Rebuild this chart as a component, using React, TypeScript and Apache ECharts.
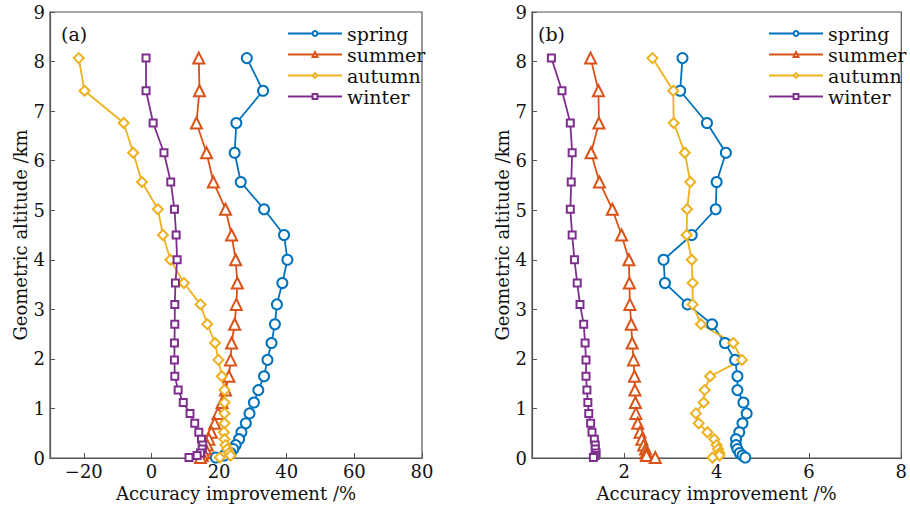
import React, { useEffect, useRef } from "react";
import * as echarts from "echarts";

const levels = [8.07, 7.41, 6.76, 6.16, 5.57, 5.02, 4.5, 4.0, 3.53, 3.1, 2.7, 2.32, 1.98, 1.65, 1.37, 1.12, 0.9, 0.7, 0.52, 0.38, 0.26, 0.18, 0.1, 0.05, 0.01];

const seasons = ["spring", "summer", "autumn", "winter"];

const springA = [28.2, 33.0, 25.1, 24.6, 26.4, 33.3, 39.2, 40.2, 38.7, 37.1, 36.5, 35.5, 34.3, 33.3, 31.6, 30.3, 29.0, 27.9, 26.6, 25.9, 24.9, 24.2, 23.4, 21.5, 19.0];
const summerA = [14.0, 14.2, 13.3, 16.3, 18.3, 21.9, 23.7, 24.9, 25.4, 25.1, 24.6, 23.7, 23.4, 22.9, 21.9, 20.9, 19.7, 18.7, 17.7, 17.0, 16.5, 16.0, 15.5, 15.0, 14.5];
const autumnA = [-21.5, -19.8, -8.2, -5.4, -2.8, 1.9, 3.4, 5.6, 9.6, 14.5, 16.5, 18.8, 19.8, 20.8, 21.6, 21.6, 21.6, 21.6, 21.4, 21.6, 21.9, 22.4, 22.9, 23.4, 20.2];
const winterA = [-1.6, -1.6, 0.5, 3.7, 5.7, 6.8, 7.3, 7.6, 7.1, 6.9, 6.9, 6.8, 6.8, 6.9, 7.9, 9.4, 11.4, 12.8, 14.0, 14.8, 15.2, 15.0, 14.5, 13.5, 11.1];

const springB = [3.26, 3.21, 3.79, 4.2, 4.0, 3.98, 3.46, 2.85, 2.88, 3.37, 3.9, 4.18, 4.4, 4.45, 4.45, 4.58, 4.65, 4.56, 4.49, 4.42, 4.42, 4.45, 4.5, 4.56, 4.62];
const summerB = [1.27, 1.44, 1.45, 1.28, 1.46, 1.74, 1.94, 2.1, 2.11, 2.12, 2.15, 2.17, 2.2, 2.22, 2.23, 2.24, 2.25, 2.29, 2.34, 2.38, 2.42, 2.46, 2.47, 2.48, 2.67];
const autumnB = [2.61, 3.06, 3.07, 3.31, 3.43, 3.36, 3.35, 3.46, 3.48, 3.48, 3.66, 4.36, 4.55, 3.86, 3.74, 3.72, 3.55, 3.61, 3.8, 3.95, 4.0, 4.03, 4.06, 4.06, 3.91];
const winterB = [0.42, 0.65, 0.83, 0.87, 0.85, 0.83, 0.87, 0.92, 0.98, 1.04, 1.12, 1.15, 1.17, 1.17, 1.19, 1.21, 1.23, 1.27, 1.3, 1.35, 1.37, 1.37, 1.39, 1.37, 1.33];

const xTicksA = [-20, 0, 20, 40, 60, 80];
const xTicksB = [0, 2, 4, 6, 8];
const xLabelsB = [2, 4, 6, 8];

const colors = ["#0072BD", "#D95319", "#EDB120", "#7E2F8E"];
const symbols = ["emptyCircle", "emptyTriangle", "emptyDiamond", "emptyRect"];
const symbolSizes = [10, 11, 10, 7];

const FONT = "DejaVu Serif";

export default function App() {
  const ref = useRef<HTMLDivElement>(null);
  useEffect(() => {
    if (!ref.current) return;
    const chart = echarts.init(ref.current, undefined, { renderer: "svg" });
    const axisColor = "#555555";
    const textColor = "#111111";
    const fmt = (v: number) => String(v).replace("-", "\u2212");

    const mkX = (idx: number, min: number, max: number, ticks: number[], labels: number[]) => ({
      type: "value",
      gridIndex: idx,
      min,
      max,
      name: "Accuracy improvement /%",
      nameLocation: "middle",
      nameGap: 19,
      nameTextStyle: { fontFamily: FONT, fontSize: 18, color: textColor },
      splitLine: { show: false },
      axisLine: { show: true, onZero: false, lineStyle: { color: axisColor, width: 1.2 } },
      axisTick: { show: true, inside: true, length: 5, customValues: ticks, lineStyle: { color: axisColor } },
      axisLabel: { customValues: labels, formatter: fmt, fontFamily: FONT, fontSize: 18, color: textColor, margin: 4 },
    });
    const mkY = (idx: number) => ({
      type: "value",
      gridIndex: idx,
      min: 0,
      max: 9,
      interval: 1,
      name: "Geometric altitude /km",
      nameLocation: "middle",
      nameGap: 20,
      nameTextStyle: { fontFamily: FONT, fontSize: 18, color: textColor },
      splitLine: { show: false },
      axisLine: { show: true, onZero: false, lineStyle: { color: axisColor, width: 1.2 } },
      axisTick: { show: true, inside: true, length: 5, lineStyle: { color: axisColor } },
      axisLabel: { fontFamily: FONT, fontSize: 18, color: textColor, margin: 5 },
    });

    const dataA = [springA, summerA, autumnA, winterA];
    const dataB = [springB, summerB, autumnB, winterB];
    const series: any[] = [];
    [dataA, dataB].forEach((set, g) => {
      set.forEach((vals, i) => {
        series.push({
          type: "line",
          name: seasons[i],
          xAxisIndex: g,
          yAxisIndex: g,
          data: vals.map((v, k) => [v, levels[k]]),
          color: colors[i],
          symbol: symbols[i],
          symbolSize: symbolSizes[i],
          lineStyle: { width: 1.8, color: colors[i] },
          itemStyle: { color: colors[i], borderWidth: 1.6 },
        });
      });
    });

    const mkLegend = (left: number) => ({
      orient: "vertical",
      left,
      top: 24,
      padding: 0,
      itemWidth: 54,
      itemHeight: 6,
      itemGap: 2,
      data: seasons,
      textStyle: { fontFamily: FONT, fontSize: 19, color: textColor, lineHeight: 18, padding: [0, 0, 0, 0] },
    });

    chart.setOption({
      animation: false,
      backgroundColor: "#ffffff",
      title: [
        { text: "(a)", left: 61, top: 24, padding: 0, textStyle: { fontFamily: FONT, fontSize: 19, fontWeight: "normal", color: textColor } },
        { text: "(b)", left: 538, top: 24, padding: 0, textStyle: { fontFamily: FONT, fontSize: 19, fontWeight: "normal", color: textColor } },
      ],
      legend: [mkLegend(287), mkLegend(768)],
      grid: [
        { left: 50, right: 488, top: 12, bottom: 57, show: true, borderColor: axisColor, borderWidth: 1.2, backgroundColor: "transparent" },
        { left: 532, right: 7, top: 12, bottom: 57, show: true, borderColor: axisColor, borderWidth: 1.2, backgroundColor: "transparent" },
      ],
      xAxis: [mkX(0, -30, 80, xTicksA, xTicksA), mkX(1, 0, 8, xTicksB, xLabelsB)],
      yAxis: [mkY(0), mkY(1)],
      series,
    });
    return () => chart.dispose();
  }, []);
  return <div ref={ref} style={{ position: "fixed", left: 0, top: 0, width: 910, height: 515 }} />;
}
